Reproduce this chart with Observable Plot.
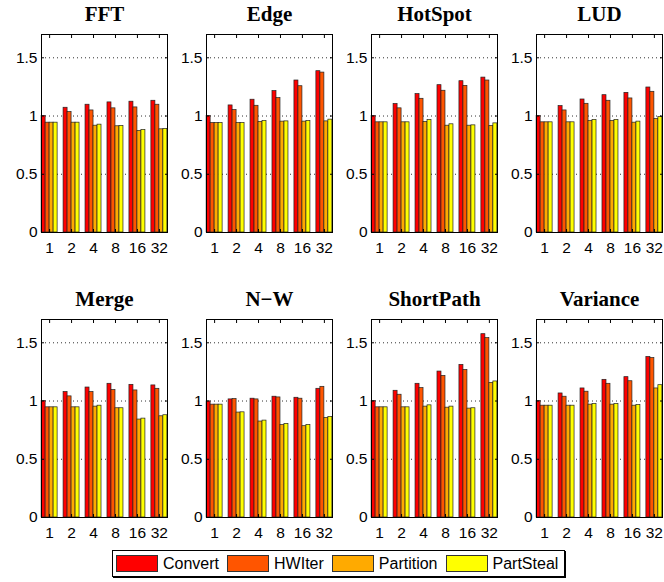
<!DOCTYPE html>
<html><head><meta charset="utf-8">
<script src="https://cdn.jsdelivr.net/npm/d3@7"></script>
<script src="https://cdn.jsdelivr.net/npm/@observablehq/plot@0.6"></script>
<style>
body{margin:0;background:#fff;font-family:"Liberation Sans",Arial,sans-serif;}
#wrap{position:relative;width:664px;height:582px;}
#legend{position:absolute;left:112px;top:550px;display:inline-flex;align-items:center;height:25px;border:1px solid #000;padding:0 6px 0 3px;font-size:16px;color:#000;box-shadow:1px 1px 0 #000;}
#legend .sw{width:42px;height:17px;box-sizing:border-box;border:1px solid #333;margin-right:5px;}
#legend .lb{margin-right:8px;}
#legend .lb:last-child{margin-right:0;}
</style>
</head><body><div id="wrap"><div id="chart"></div><div id="legend"></div></div>
<script>
const benchmarks = ["FFT","Edge","HotSpot","LUD","Merge","N\u2212W","ShortPath","Variance"];
const threads = ["1","2","4","8","16","32"];
const series = ["Convert","HWIter","Partition","PartSteal"];
const colors = ["#ff0000","#ff5500","#ffaa00","#ffff00"];
const yTicks = [0, 0.5, 1, 1.5];

// values[benchmark][thread]
const convert = [
  [1.00,1.071,1.097,1.117,1.123,1.131],
  [1.00,1.091,1.140,1.214,1.305,1.385],
  [1.00,1.103,1.188,1.265,1.299,1.330],
  [1.00,1.085,1.142,1.179,1.199,1.245],
  [1.00,1.077,1.116,1.148,1.139,1.134],
  [0.997,1.014,1.020,1.037,1.028,1.105],
  [1.00,1.088,1.148,1.253,1.310,1.574],
  [1.00,1.065,1.108,1.182,1.205,1.378]
];
const hwiter = [
  [0.943,1.034,1.048,1.066,1.074,1.097],
  [0.940,1.051,1.088,1.154,1.256,1.373],
  [0.946,1.066,1.148,1.217,1.259,1.305],
  [0.946,1.048,1.105,1.131,1.151,1.208],
  [0.946,1.040,1.077,1.094,1.091,1.105],
  [0.969,1.017,1.014,1.031,1.020,1.122],
  [0.946,1.054,1.111,1.216,1.267,1.540],
  [0.960,1.037,1.080,1.148,1.170,1.369]
];
const partition = [
  [0.943,0.943,0.917,0.912,0.872,0.886],
  [0.940,0.940,0.949,0.952,0.952,0.954],
  [0.946,0.946,0.949,0.917,0.917,0.915],
  [0.946,0.946,0.957,0.957,0.943,0.974],
  [0.946,0.946,0.952,0.938,0.841,0.869],
  [0.969,0.901,0.824,0.793,0.784,0.855],
  [0.946,0.946,0.952,0.943,0.935,1.156],
  [0.960,0.960,0.969,0.969,0.960,1.108]
];
const partsteal = [
  [0.943,0.943,0.926,0.915,0.880,0.889],
  [0.940,0.940,0.957,0.954,0.957,0.969],
  [0.946,0.946,0.966,0.929,0.920,0.937],
  [0.946,0.946,0.966,0.966,0.952,0.991],
  [0.946,0.946,0.960,0.938,0.849,0.878],
  [0.969,0.903,0.832,0.804,0.795,0.864],
  [0.946,0.946,0.963,0.952,0.938,1.168],
  [0.960,0.960,0.974,0.974,0.966,1.136]
];

const values = [convert, hwiter, partition, partsteal];
const rows = [];
benchmarks.forEach((b, bi) => threads.forEach((t, ti) => series.forEach((s, si) => {
  rows.push({bench: b, col: bi % 4, row: Math.floor(bi / 4), g: ti, s: si, series: s, value: values[si][bi][ti]});
})));
const titles = benchmarks.map((b, i) => ({name: b, col: i % 4, row: Math.floor(i / 4)}));
const bw = 0.182; // bar width in group units

const plot = Plot.plot({
  width: 664, height: 540,
  marginTop: 33, marginBottom: 22, marginLeft: 40, marginRight: 2,
  style: {fontFamily: "'Liberation Sans', Arial, sans-serif", fontSize: "15.5px", background: "white", color: "black"},
  fx: {domain: [0,1,2,3], paddingInner: 0.238, paddingOuter: 0, axis: null},
  fy: {domain: [0,1], paddingInner: 0.304, paddingOuter: 0, axis: null},
  x: {domain: [-0.37, 5.37]},
  y: {domain: [0, 1.7]},
  color: {domain: series, range: colors},
  marks: [
    Plot.gridY(yTicks.slice(1), {stroke: "#333", strokeOpacity: 1, strokeDasharray: "1,3", strokeWidth: 1}),
    Plot.rectY(rows, {fx: "col", fy: "row", x1: d => d.g - 2*bw + d.s*bw, x2: d => d.g - bw + d.s*bw, y1: 0, y2: "value", fill: "series", stroke: "#222", strokeWidth: 0.7}),
    Plot.frame({stroke: "black", strokeWidth: 1}),
    Plot.axisX(d3.range(threads.length), {anchor: "bottom", facetAnchor: null, tickSize: -3, tickPadding: 12, tickFormat: i => threads[i], label: null}),
    Plot.axisX(d3.range(threads.length), {anchor: "top", facetAnchor: null, tickSize: -3, tickFormat: () => "", label: null}),
    Plot.axisY(yTicks, {anchor: "left", facetAnchor: null, tickSize: -3, tickPadding: 7, tickFormat: d => String(d), label: null}),
    Plot.axisY(yTicks, {anchor: "right", facetAnchor: null, tickSize: -3, tickFormat: () => "", label: null}),
    Plot.text(titles, {fx: "col", fy: "row", text: "name", frameAnchor: "top", lineAnchor: "bottom", dy: -14, fontSize: 21, fontWeight: "bold", fontFamily: "'Liberation Serif', 'Times New Roman', serif"})
  ]
});
document.getElementById("chart").appendChild(plot);

const legend = document.getElementById("legend");
series.forEach((s, i) => {
  const sw = document.createElement("span");
  sw.className = "sw";
  sw.style.background = colors[i];
  const lb = document.createElement("span");
  lb.className = "lb";
  lb.textContent = s;
  legend.appendChild(sw);
  legend.appendChild(lb);
});
</script>
</body></html>
